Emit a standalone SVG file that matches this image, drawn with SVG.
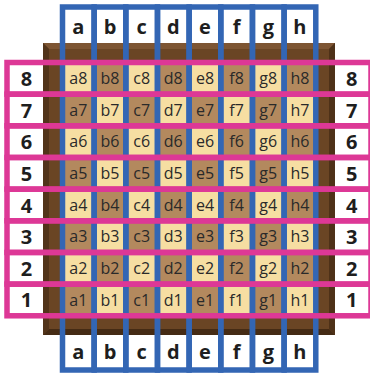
<svg xmlns="http://www.w3.org/2000/svg" width="370" height="373" viewBox="0 0 370 373">
<style>
.lt{fill:#F6DEA2}
.dk{fill:#B3895E}
.sl{font-family:"Open Sans","Liberation Sans",sans-serif;font-size:16px;fill:#2A2A2A;text-anchor:middle}
.bl{font-family:"Open Sans","Liberation Sans",sans-serif;font-size:20px;font-weight:bold;fill:#1E1E1E;text-anchor:middle}
.file{fill:none;stroke:#3366B4;stroke-width:5.5}
.rank{fill:none;stroke:#DD3896;stroke-width:5.5}
</style>
<rect x="0" y="0" width="370" height="373" fill="#FFFFFF"/>
<g id="board">
<rect x="43" y="43" width="292" height="292" fill="#6A4524"/>
<polygon points="43,43 335,43 329,49 49,49" fill="#7D5533"/>
<polygon points="43,43 49,49 49,329 43,335" fill="#52341A"/>
<polygon points="335,43 335,335 329,329 329,49" fill="#4E3118"/>
<polygon points="43,335 335,335 329,329 49,329" fill="#452B14"/>
</g>
<g id="squares">
<g id="sq-a8"><rect class="lt" x="62.5" y="62.5" width="31.66" height="31.66"/><text class="sl" x="78.33" y="84">a8</text></g>
<g id="sq-b8"><rect class="dk" x="94.16" y="62.5" width="31.66" height="31.66"/><text class="sl" x="109.99" y="84">b8</text></g>
<g id="sq-c8"><rect class="lt" x="125.82" y="62.5" width="31.66" height="31.66"/><text class="sl" x="141.65" y="84">c8</text></g>
<g id="sq-d8"><rect class="dk" x="157.48" y="62.5" width="31.66" height="31.66"/><text class="sl" x="173.31" y="84">d8</text></g>
<g id="sq-e8"><rect class="lt" x="189.14" y="62.5" width="31.66" height="31.66"/><text class="sl" x="204.97" y="84">e8</text></g>
<g id="sq-f8"><rect class="dk" x="220.8" y="62.5" width="31.66" height="31.66"/><text class="sl" x="236.63" y="84">f8</text></g>
<g id="sq-g8"><rect class="lt" x="252.46" y="62.5" width="31.66" height="31.66"/><text class="sl" x="268.29" y="84">g8</text></g>
<g id="sq-h8"><rect class="dk" x="284.12" y="62.5" width="31.66" height="31.66"/><text class="sl" x="299.95" y="84">h8</text></g>

<g id="sq-a7"><rect class="dk" x="62.5" y="94.16" width="31.66" height="31.66"/><text class="sl" x="78.33" y="115.7">a7</text></g>
<g id="sq-b7"><rect class="lt" x="94.16" y="94.16" width="31.66" height="31.66"/><text class="sl" x="109.99" y="115.7">b7</text></g>
<g id="sq-c7"><rect class="dk" x="125.82" y="94.16" width="31.66" height="31.66"/><text class="sl" x="141.65" y="115.7">c7</text></g>
<g id="sq-d7"><rect class="lt" x="157.48" y="94.16" width="31.66" height="31.66"/><text class="sl" x="173.31" y="115.7">d7</text></g>
<g id="sq-e7"><rect class="dk" x="189.14" y="94.16" width="31.66" height="31.66"/><text class="sl" x="204.97" y="115.7">e7</text></g>
<g id="sq-f7"><rect class="lt" x="220.8" y="94.16" width="31.66" height="31.66"/><text class="sl" x="236.63" y="115.7">f7</text></g>
<g id="sq-g7"><rect class="dk" x="252.46" y="94.16" width="31.66" height="31.66"/><text class="sl" x="268.29" y="115.7">g7</text></g>
<g id="sq-h7"><rect class="lt" x="284.12" y="94.16" width="31.66" height="31.66"/><text class="sl" x="299.95" y="115.7">h7</text></g>

<g id="sq-a6"><rect class="lt" x="62.5" y="125.82" width="31.66" height="31.66"/><text class="sl" x="78.33" y="147.35">a6</text></g>
<g id="sq-b6"><rect class="dk" x="94.16" y="125.82" width="31.66" height="31.66"/><text class="sl" x="109.99" y="147.35">b6</text></g>
<g id="sq-c6"><rect class="lt" x="125.82" y="125.82" width="31.66" height="31.66"/><text class="sl" x="141.65" y="147.35">c6</text></g>
<g id="sq-d6"><rect class="dk" x="157.48" y="125.82" width="31.66" height="31.66"/><text class="sl" x="173.31" y="147.35">d6</text></g>
<g id="sq-e6"><rect class="lt" x="189.14" y="125.82" width="31.66" height="31.66"/><text class="sl" x="204.97" y="147.35">e6</text></g>
<g id="sq-f6"><rect class="dk" x="220.8" y="125.82" width="31.66" height="31.66"/><text class="sl" x="236.63" y="147.35">f6</text></g>
<g id="sq-g6"><rect class="lt" x="252.46" y="125.82" width="31.66" height="31.66"/><text class="sl" x="268.29" y="147.35">g6</text></g>
<g id="sq-h6"><rect class="dk" x="284.12" y="125.82" width="31.66" height="31.66"/><text class="sl" x="299.95" y="147.35">h6</text></g>

<g id="sq-a5"><rect class="dk" x="62.5" y="157.48" width="31.66" height="31.66"/><text class="sl" x="78.33" y="179">a5</text></g>
<g id="sq-b5"><rect class="lt" x="94.16" y="157.48" width="31.66" height="31.66"/><text class="sl" x="109.99" y="179">b5</text></g>
<g id="sq-c5"><rect class="dk" x="125.82" y="157.48" width="31.66" height="31.66"/><text class="sl" x="141.65" y="179">c5</text></g>
<g id="sq-d5"><rect class="lt" x="157.48" y="157.48" width="31.66" height="31.66"/><text class="sl" x="173.31" y="179">d5</text></g>
<g id="sq-e5"><rect class="dk" x="189.14" y="157.48" width="31.66" height="31.66"/><text class="sl" x="204.97" y="179">e5</text></g>
<g id="sq-f5"><rect class="lt" x="220.8" y="157.48" width="31.66" height="31.66"/><text class="sl" x="236.63" y="179">f5</text></g>
<g id="sq-g5"><rect class="dk" x="252.46" y="157.48" width="31.66" height="31.66"/><text class="sl" x="268.29" y="179">g5</text></g>
<g id="sq-h5"><rect class="lt" x="284.12" y="157.48" width="31.66" height="31.66"/><text class="sl" x="299.95" y="179">h5</text></g>

<g id="sq-a4"><rect class="lt" x="62.5" y="189.14" width="31.66" height="31.66"/><text class="sl" x="78.33" y="210.7">a4</text></g>
<g id="sq-b4"><rect class="dk" x="94.16" y="189.14" width="31.66" height="31.66"/><text class="sl" x="109.99" y="210.7">b4</text></g>
<g id="sq-c4"><rect class="lt" x="125.82" y="189.14" width="31.66" height="31.66"/><text class="sl" x="141.65" y="210.7">c4</text></g>
<g id="sq-d4"><rect class="dk" x="157.48" y="189.14" width="31.66" height="31.66"/><text class="sl" x="173.31" y="210.7">d4</text></g>
<g id="sq-e4"><rect class="lt" x="189.14" y="189.14" width="31.66" height="31.66"/><text class="sl" x="204.97" y="210.7">e4</text></g>
<g id="sq-f4"><rect class="dk" x="220.8" y="189.14" width="31.66" height="31.66"/><text class="sl" x="236.63" y="210.7">f4</text></g>
<g id="sq-g4"><rect class="lt" x="252.46" y="189.14" width="31.66" height="31.66"/><text class="sl" x="268.29" y="210.7">g4</text></g>
<g id="sq-h4"><rect class="dk" x="284.12" y="189.14" width="31.66" height="31.66"/><text class="sl" x="299.95" y="210.7">h4</text></g>

<g id="sq-a3"><rect class="dk" x="62.5" y="220.8" width="31.66" height="31.66"/><text class="sl" x="78.33" y="242.3">a3</text></g>
<g id="sq-b3"><rect class="lt" x="94.16" y="220.8" width="31.66" height="31.66"/><text class="sl" x="109.99" y="242.3">b3</text></g>
<g id="sq-c3"><rect class="dk" x="125.82" y="220.8" width="31.66" height="31.66"/><text class="sl" x="141.65" y="242.3">c3</text></g>
<g id="sq-d3"><rect class="lt" x="157.48" y="220.8" width="31.66" height="31.66"/><text class="sl" x="173.31" y="242.3">d3</text></g>
<g id="sq-e3"><rect class="dk" x="189.14" y="220.8" width="31.66" height="31.66"/><text class="sl" x="204.97" y="242.3">e3</text></g>
<g id="sq-f3"><rect class="lt" x="220.8" y="220.8" width="31.66" height="31.66"/><text class="sl" x="236.63" y="242.3">f3</text></g>
<g id="sq-g3"><rect class="dk" x="252.46" y="220.8" width="31.66" height="31.66"/><text class="sl" x="268.29" y="242.3">g3</text></g>
<g id="sq-h3"><rect class="lt" x="284.12" y="220.8" width="31.66" height="31.66"/><text class="sl" x="299.95" y="242.3">h3</text></g>

<g id="sq-a2"><rect class="lt" x="62.5" y="252.46" width="31.66" height="31.66"/><text class="sl" x="78.33" y="274">a2</text></g>
<g id="sq-b2"><rect class="dk" x="94.16" y="252.46" width="31.66" height="31.66"/><text class="sl" x="109.99" y="274">b2</text></g>
<g id="sq-c2"><rect class="lt" x="125.82" y="252.46" width="31.66" height="31.66"/><text class="sl" x="141.65" y="274">c2</text></g>
<g id="sq-d2"><rect class="dk" x="157.48" y="252.46" width="31.66" height="31.66"/><text class="sl" x="173.31" y="274">d2</text></g>
<g id="sq-e2"><rect class="lt" x="189.14" y="252.46" width="31.66" height="31.66"/><text class="sl" x="204.97" y="274">e2</text></g>
<g id="sq-f2"><rect class="dk" x="220.8" y="252.46" width="31.66" height="31.66"/><text class="sl" x="236.63" y="274">f2</text></g>
<g id="sq-g2"><rect class="lt" x="252.46" y="252.46" width="31.66" height="31.66"/><text class="sl" x="268.29" y="274">g2</text></g>
<g id="sq-h2"><rect class="dk" x="284.12" y="252.46" width="31.66" height="31.66"/><text class="sl" x="299.95" y="274">h2</text></g>

<g id="sq-a1"><rect class="dk" x="62.5" y="284.12" width="31.66" height="31.66"/><text class="sl" x="78.33" y="305.65">a1</text></g>
<g id="sq-b1"><rect class="lt" x="94.16" y="284.12" width="31.66" height="31.66"/><text class="sl" x="109.99" y="305.65">b1</text></g>
<g id="sq-c1"><rect class="dk" x="125.82" y="284.12" width="31.66" height="31.66"/><text class="sl" x="141.65" y="305.65">c1</text></g>
<g id="sq-d1"><rect class="lt" x="157.48" y="284.12" width="31.66" height="31.66"/><text class="sl" x="173.31" y="305.65">d1</text></g>
<g id="sq-e1"><rect class="dk" x="189.14" y="284.12" width="31.66" height="31.66"/><text class="sl" x="204.97" y="305.65">e1</text></g>
<g id="sq-f1"><rect class="lt" x="220.8" y="284.12" width="31.66" height="31.66"/><text class="sl" x="236.63" y="305.65">f1</text></g>
<g id="sq-g1"><rect class="dk" x="252.46" y="284.12" width="31.66" height="31.66"/><text class="sl" x="268.29" y="305.65">g1</text></g>
<g id="sq-h1"><rect class="lt" x="284.12" y="284.12" width="31.66" height="31.66"/><text class="sl" x="299.95" y="305.65">h1</text></g>
</g>
<g id="files">
<rect class="file" x="62.5" y="7" width="31.66" height="363"/>
<rect class="file" x="94.16" y="7" width="31.66" height="363"/>
<rect class="file" x="125.82" y="7" width="31.66" height="363"/>
<rect class="file" x="157.48" y="7" width="31.66" height="363"/>
<rect class="file" x="189.14" y="7" width="31.66" height="363"/>
<rect class="file" x="220.8" y="7" width="31.66" height="363"/>
<rect class="file" x="252.46" y="7" width="31.66" height="363"/>
<rect class="file" x="284.12" y="7" width="31.66" height="363"/>
</g>
<g id="ranks">
<rect class="rank" x="7" y="62.5" width="364" height="31.66"/>
<rect class="rank" x="7" y="94.16" width="364" height="31.66"/>
<rect class="rank" x="7" y="125.82" width="364" height="31.66"/>
<rect class="rank" x="7" y="157.48" width="364" height="31.66"/>
<rect class="rank" x="7" y="189.14" width="364" height="31.66"/>
<rect class="rank" x="7" y="220.8" width="364" height="31.66"/>
<rect class="rank" x="7" y="252.46" width="364" height="31.66"/>
<rect class="rank" x="7" y="284.12" width="364" height="31.66"/>
</g>
<g id="file-labels-top">
<g id="top-a"><text class="bl" x="78.33" y="33.5">a</text></g>
<g id="top-b"><text class="bl" x="109.99" y="33.5">b</text></g>
<g id="top-c"><text class="bl" x="141.65" y="33.5">c</text></g>
<g id="top-d"><text class="bl" x="173.31" y="33.5">d</text></g>
<g id="top-e"><text class="bl" x="204.97" y="33.5">e</text></g>
<g id="top-f"><text class="bl" x="236.63" y="33.5">f</text></g>
<g id="top-g"><text class="bl" x="268.29" y="33.5">g</text></g>
<g id="top-h"><text class="bl" x="299.95" y="33.5">h</text></g>
</g>
<g id="file-labels-bottom">
<g id="bottom-a"><text class="bl" x="78.33" y="359">a</text></g>
<g id="bottom-b"><text class="bl" x="109.99" y="359">b</text></g>
<g id="bottom-c"><text class="bl" x="141.65" y="359">c</text></g>
<g id="bottom-d"><text class="bl" x="173.31" y="359">d</text></g>
<g id="bottom-e"><text class="bl" x="204.97" y="359">e</text></g>
<g id="bottom-f"><text class="bl" x="236.63" y="359">f</text></g>
<g id="bottom-g"><text class="bl" x="268.29" y="359">g</text></g>
<g id="bottom-h"><text class="bl" x="299.95" y="359">h</text></g>
</g>
<g id="rank-labels-left">
<g id="left-8"><text class="bl" x="26.5" y="85.8">8</text></g>
<g id="left-7"><text class="bl" x="26.5" y="117.5">7</text></g>
<g id="left-6"><text class="bl" x="26.5" y="149.15">6</text></g>
<g id="left-5"><text class="bl" x="26.5" y="180.8">5</text></g>
<g id="left-4"><text class="bl" x="26.5" y="212.5">4</text></g>
<g id="left-3"><text class="bl" x="26.5" y="244.1">3</text></g>
<g id="left-2"><text class="bl" x="26.5" y="275.8">2</text></g>
<g id="left-1"><text class="bl" x="26.5" y="307.45">1</text></g>
</g>
<g id="rank-labels-right">
<g id="right-8"><text class="bl" x="351.7" y="85.8">8</text></g>
<g id="right-7"><text class="bl" x="351.7" y="117.5">7</text></g>
<g id="right-6"><text class="bl" x="351.7" y="149.15">6</text></g>
<g id="right-5"><text class="bl" x="351.7" y="180.8">5</text></g>
<g id="right-4"><text class="bl" x="351.7" y="212.5">4</text></g>
<g id="right-3"><text class="bl" x="351.7" y="244.1">3</text></g>
<g id="right-2"><text class="bl" x="351.7" y="275.8">2</text></g>
<g id="right-1"><text class="bl" x="351.7" y="307.45">1</text></g>
</g>
</svg>
